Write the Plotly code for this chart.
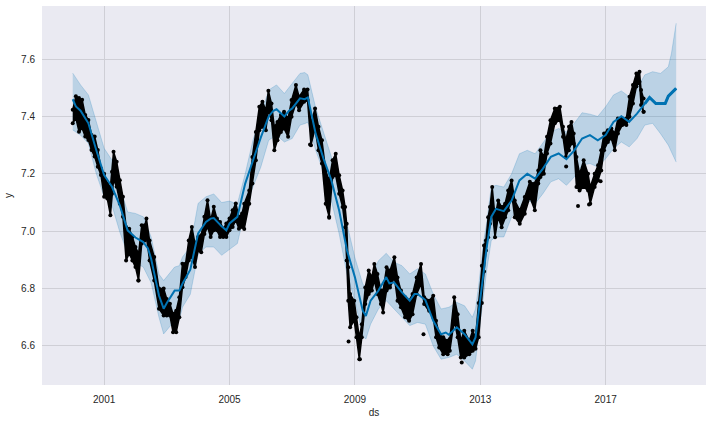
import pandas as pd
import plotly.graph_objects as go

# yearly positions are decimal years, converted to dates further down
yhat_years = [2000.0, 2000.1, 2000.25, 2000.5, 2000.75, 2001.0, 2001.25, 2001.5, 2001.75, 2002.0, 2002.25, 2002.4,
              2002.5, 2002.75, 2002.9, 2003.0, 2003.25, 2003.4, 2003.5, 2003.75, 2004.0, 2004.25, 2004.4, 2004.5,
              2004.75, 2004.9, 2005.0, 2005.25, 2005.5, 2005.75, 2006.0, 2006.25, 2006.4, 2006.5, 2006.75, 2006.9,
              2007.0, 2007.25, 2007.4, 2007.5, 2007.75, 2008.0, 2008.25, 2008.5, 2008.75, 2009.0, 2009.25, 2009.35,
              2009.5, 2009.75, 2010.0, 2010.1, 2010.25, 2010.5, 2010.75, 2010.9, 2011.0, 2011.25, 2011.5, 2011.75,
              2011.9, 2012.0, 2012.25, 2012.5, 2012.75, 2012.85, 2012.95, 2013.1, 2013.2, 2013.35, 2013.5, 2013.75,
              2014.0, 2014.25, 2014.5, 2014.75, 2015.0, 2015.25, 2015.5, 2015.75, 2016.0, 2016.25, 2016.5, 2016.75,
              2017.0, 2017.25, 2017.5, 2017.75, 2018.0, 2018.25, 2018.4, 2018.6, 2018.9, 2019.0, 2019.25]
yhat = [7.46, 7.435, 7.42, 7.376, 7.283, 7.196, 7.155, 7.09, 7.003, 6.978, 6.962, 6.94,
        6.904, 6.776, 6.73, 6.75, 6.793, 6.793, 6.817, 6.866, 6.992, 7.032, 7.044, 7.046,
        7.017, 7.003, 7.027, 7.05, 7.166, 7.25, 7.327, 7.40, 7.42, 7.425, 7.40, 7.42,
        7.428, 7.463, 7.46, 7.466, 7.34, 7.253, 7.178, 7.072, 6.933, 6.84, 6.723, 6.705,
        6.758, 6.793, 6.84, 6.818, 6.822, 6.787, 6.758, 6.781, 6.781, 6.76, 6.688, 6.641,
        6.647, 6.639, 6.665, 6.641, 6.606, 6.63, 6.72, 6.87, 6.94, 7.05, 7.078, 7.07,
        7.107, 7.177, 7.2, 7.183, 7.218, 7.259, 7.271, 7.251, 7.282, 7.323, 7.335, 7.317,
        7.335, 7.381, 7.401, 7.381, 7.41, 7.445, 7.466, 7.445, 7.445, 7.471, 7.498]
# the forecast stretch after the last observation is drawn thicker
tail_start = 2018.25

band_years = [2000.0, 2000.25, 2000.5, 2000.75, 2001.0, 2001.25, 2001.5, 2001.75, 2002.0, 2002.25, 2002.5, 2002.75,
              2002.9, 2003.25, 2003.4, 2003.5, 2003.75, 2004.0, 2004.25, 2004.5, 2004.75, 2005.0, 2005.25, 2005.5,
              2005.75, 2006.0, 2006.25, 2006.5, 2006.75, 2007.0, 2007.25, 2007.4, 2007.5, 2007.75, 2008.0, 2008.25,
              2008.5, 2008.75, 2009.0, 2009.25, 2009.35, 2009.5, 2009.75, 2010.0, 2010.25, 2010.5, 2010.75, 2011.0,
              2011.25, 2011.5, 2011.75, 2012.0, 2012.25, 2012.5, 2012.75, 2012.85, 2012.95, 2013.1, 2013.2, 2013.35,
              2013.5, 2013.75, 2014.0, 2014.25, 2014.5, 2014.75, 2015.0, 2015.25, 2015.5, 2015.75, 2016.0, 2016.25,
              2016.5, 2016.75, 2017.0, 2017.25, 2017.5, 2017.75, 2018.0, 2018.25, 2018.5, 2018.75, 2019.0, 2019.1,
              2019.25]
yhat_upper = [7.551, 7.51, 7.475, 7.382, 7.289, 7.248, 7.155, 7.067, 7.062, 7.05, 6.98, 6.85,
              6.828, 6.875, 6.88, 6.91, 6.945, 7.097, 7.12, 7.13, 7.10, 7.105, 7.095, 7.2,
              7.318, 7.405, 7.492, 7.51, 7.48, 7.515, 7.55, 7.553, 7.545, 7.43, 7.346, 7.26,
              7.13, 7.025, 6.908, 6.816, 6.804, 6.839, 6.897, 6.923, 6.892, 6.88, 6.851, 6.869,
              6.851, 6.781, 6.729, 6.735, 6.752, 6.74, 6.70, 6.729, 6.81, 6.96, 7.026, 7.154,
              7.16, 7.154, 7.2, 7.27, 7.282, 7.27, 7.306, 7.346, 7.358, 7.346, 7.376, 7.413,
              7.408, 7.40, 7.434, 7.475, 7.489, 7.469, 7.498, 7.545, 7.556, 7.55, 7.573, 7.62,
              7.725]
yhat_lower = [7.353, 7.335, 7.306, 7.201, 7.12, 7.09, 6.997, 6.922, 6.89, 6.875, 6.82, 6.70,
              6.642, 6.688, 6.69, 6.735, 6.78, 6.92, 6.945, 6.945, 6.916, 6.935, 6.957, 7.075,
              7.155, 7.224, 7.317, 7.335, 7.311, 7.323, 7.37, 7.375, 7.38, 7.282, 7.207, 7.107,
              6.991, 6.85, 6.758, 6.635, 6.624, 6.676, 6.729, 6.758, 6.729, 6.70, 6.671, 6.682,
              6.676, 6.60, 6.554, 6.56, 6.571, 6.548, 6.519, 6.548, 6.64, 6.79, 6.86, 6.968,
              6.98, 6.98, 7.05, 7.084, 7.107, 7.096, 7.131, 7.172, 7.183, 7.16, 7.189, 7.23,
              7.236, 7.224, 7.253, 7.288, 7.311, 7.294, 7.323, 7.37, 7.376, 7.34, 7.30, 7.276,
              7.241]

# spread of the observations around each date
obs_years = [2000.0, 2000.1, 2000.2, 2000.3, 2000.4, 2000.5, 2000.6, 2000.7, 2000.8, 2000.9, 2001.0, 2001.1,
             2001.2, 2001.25, 2001.3, 2001.4, 2001.5, 2001.6, 2001.7, 2001.8, 2001.9, 2002.0, 2002.1, 2002.2,
             2002.3, 2002.35, 2002.45, 2002.6, 2002.75, 2002.9, 2003.0, 2003.1, 2003.2, 2003.3, 2003.4, 2003.5,
             2003.6, 2003.7, 2003.8, 2003.9, 2004.0, 2004.1, 2004.2, 2004.3, 2004.4, 2004.5, 2004.6, 2004.7,
             2004.8, 2004.9, 2005.0, 2005.1, 2005.2, 2005.3, 2005.4, 2005.47, 2005.63, 2005.73, 2005.84, 2005.95,
             2006.05, 2006.16, 2006.24, 2006.34, 2006.43, 2006.53, 2006.64, 2006.74, 2006.87, 2006.98, 2007.12, 2007.22,
             2007.38, 2007.49, 2007.6, 2007.73, 2007.84, 2007.95, 2008.07, 2008.18, 2008.29, 2008.39, 2008.5, 2008.61,
             2008.69, 2008.74, 2008.79, 2008.85, 2008.98, 2009.05, 2009.14, 2009.22, 2009.33, 2009.44, 2009.54, 2009.62,
             2009.72, 2009.83, 2009.9, 2010.01, 2010.12, 2010.26, 2010.36, 2010.47, 2010.6, 2010.73, 2010.84, 2010.97,
             2011.11, 2011.21, 2011.37, 2011.5, 2011.59, 2011.69, 2011.82, 2011.96, 2012.03, 2012.17, 2012.28, 2012.38,
             2012.49, 2012.65, 2012.76, 2012.85, 2012.95, 2013.05, 2013.12, 2013.18, 2013.25, 2013.31, 2013.38, 2013.47,
             2013.57, 2013.68, 2013.79, 2013.89, 2014.0, 2014.1, 2014.26, 2014.42, 2014.58, 2014.74, 2014.85, 2014.92,
             2015.03, 2015.13, 2015.24, 2015.38, 2015.54, 2015.64, 2015.73, 2015.83, 2015.91, 2015.98, 2016.07, 2016.17,
             2016.3, 2016.44, 2016.51, 2016.65, 2016.76, 2016.86, 2016.95, 2017.07, 2017.18, 2017.29, 2017.39, 2017.53,
             2017.66, 2017.76, 2017.87, 2017.98, 2018.08, 2018.13, 2018.21]
obs_high = [7.423, 7.47, 7.464, 7.458, 7.405, 7.388, 7.335, 7.33, 7.283, 7.219, 7.2, 7.166,
            7.155, 7.207, 7.277, 7.242, 7.178, 7.12, 7.015, 7.009, 6.98, 6.945, 6.922, 7.021,
            7.021, 7.044, 6.968, 6.91, 6.8, 6.8, 6.764, 6.747, 6.712, 6.723, 6.77, 6.887,
            6.887, 6.968, 7.015, 6.957, 6.98, 6.986, 7.05, 7.108, 7.038, 7.085, 7.044, 7.032,
            7.009, 7.027, 7.044, 7.073, 7.097, 7.05, 7.062, 7.096, 7.142, 7.259, 7.346, 7.434,
            7.451, 7.422, 7.49, 7.445, 7.364, 7.381, 7.405, 7.416, 7.393, 7.457, 7.51, 7.469,
            7.494, 7.494, 7.376, 7.428, 7.364, 7.317, 7.212, 7.177, 7.247, 7.27, 7.195, 7.142,
            7.084, 7.026, 6.874, 6.781, 6.758, 6.7, 6.63, 6.676, 6.804, 6.863, 6.84, 6.886,
            6.851, 6.793, 6.793, 6.874, 6.863, 6.909, 6.839, 6.793, 6.77, 6.758, 6.781, 6.839,
            6.886, 6.77, 6.758, 6.775, 6.688, 6.641, 6.63, 6.618, 6.624, 6.77, 6.711, 6.618,
            6.653, 6.618, 6.653, 6.63, 6.75, 6.88, 6.95, 6.968, 7.049, 7.084, 7.154, 7.049,
            7.107, 7.084, 7.096, 7.142, 7.177, 7.107, 7.073, 7.119, 7.172, 7.166, 7.212, 7.282,
            7.259, 7.329, 7.387, 7.428, 7.434, 7.364, 7.317, 7.364, 7.381, 7.341, 7.259, 7.2,
            7.247, 7.2, 7.154, 7.2, 7.23, 7.282, 7.341, 7.352, 7.358, 7.341, 7.393, 7.393,
            7.393, 7.469, 7.51, 7.55, 7.556, 7.492, 7.463]
obs_low = [7.376, 7.394, 7.347, 7.359, 7.33, 7.318, 7.283, 7.26, 7.225, 7.196, 7.12, 7.114,
           7.056, 7.131, 7.178, 7.155, 7.096, 7.05, 6.898, 6.922, 6.898, 6.875, 6.828, 6.957,
           6.968, 6.98, 6.898, 6.828, 6.73, 6.706, 6.706, 6.706, 6.648, 6.648, 6.70, 6.805,
           6.84, 6.898, 6.91, 6.875, 6.933, 6.927, 6.99, 7.015, 6.98, 7.003, 7.003, 6.98,
           6.98, 6.98, 7.003, 7.015, 7.038, 7.009, 7.015, 7.008, 7.096, 7.166, 7.247, 7.352,
           7.364, 7.352, 7.422, 7.387, 7.282, 7.317, 7.346, 7.358, 7.329, 7.399, 7.445, 7.422,
           7.451, 7.457, 7.3, 7.358, 7.282, 7.236, 7.096, 7.05, 7.189, 7.195, 7.131, 7.084,
           7.014, 6.898, 6.758, 6.665, 6.688, 6.63, 6.554, 6.63, 6.746, 6.781, 6.793, 6.828,
           6.781, 6.746, 6.717, 6.793, 6.804, 6.839, 6.758, 6.735, 6.70, 6.688, 6.711, 6.781,
           6.816, 6.746, 6.723, 6.70, 6.63, 6.595, 6.571, 6.571, 6.583, 6.688, 6.63, 6.56,
           6.56, 6.571, 6.583, 6.59, 6.63, 6.75, 6.86, 6.933, 6.979, 7.026, 7.073, 6.979,
           7.049, 7.014, 7.049, 7.073, 7.131, 7.049, 7.026, 7.061, 7.119, 7.073, 7.166, 7.189,
           7.2, 7.271, 7.306, 7.376, 7.387, 7.329, 7.259, 7.282, 7.306, 7.306, 7.154, 7.142,
           7.154, 7.142, 7.096, 7.154, 7.177, 7.212, 7.282, 7.311, 7.323, 7.282, 7.341, 7.37,
           7.37, 7.399, 7.445, 7.504, 7.521, 7.44, 7.416]

# stray points away from the main blobs
stray_years = [2002.09, 2007.57, 2008.18, 2008.8, 2009.16, 2011.19, 2012.41, 2015.74, 2016.12, 2016.47, 2016.84, 2018.21]
stray_vals = [6.828, 7.302, 7.047, 6.616, 6.554, 6.641, 6.542, 7.226, 7.088, 7.093, 7.174, 7.416]

tick_years = [2001, 2005, 2009, 2013, 2017]
y_ticks = [6.6, 6.8, 7.0, 7.2, 7.4, 7.6]


def to_dates(years):
    return [pd.Timestamp(int(y), 1, 1) + pd.Timedelta(days=(y % 1) * 365.25) for y in years]


band_dates = to_dates(band_years)
obs_dates = to_dates(obs_years)
tail = yhat_years.index(tail_start)

fig = go.Figure()
fig.add_trace(go.Scatter(x=band_dates, y=yhat_lower, mode='lines', line=dict(color='rgba(0,114,178,0.2)', width=1),
                         showlegend=False))
fig.add_trace(go.Scatter(x=band_dates, y=yhat_upper, mode='lines', line=dict(color='rgba(0,114,178,0.2)', width=1),
                         fill='tonexty', fillcolor='rgba(0,114,178,0.2)', showlegend=False))
# observations: solid between the low and the high of each date, dots on the edges
fig.add_trace(go.Scatter(x=obs_dates, y=obs_low, mode='lines+markers', line=dict(color='black', width=1.5),
                         marker=dict(color='black', size=4), showlegend=False))
fig.add_trace(go.Scatter(x=obs_dates, y=obs_high, mode='lines+markers', line=dict(color='black', width=1.5),
                         marker=dict(color='black', size=4), fill='tonexty', fillcolor='black', showlegend=False))
fig.add_trace(go.Scatter(x=to_dates(stray_years), y=stray_vals, mode='markers',
                         marker=dict(color='black', size=4), showlegend=False))
fig.add_trace(go.Scatter(x=to_dates(yhat_years), y=yhat, mode='lines', line=dict(color='#0072B2', width=2),
                         showlegend=False))
fig.add_trace(go.Scatter(x=to_dates(yhat_years[tail:]), y=yhat[tail:], mode='lines',
                         line=dict(color='#0072B2', width=3), showlegend=False))

fig.update_layout(width=712, height=424, margin=dict(l=42, r=6, t=6, b=39),
                  paper_bgcolor='white', plot_bgcolor='#EAEAF2',
                  font=dict(family='Liberation Sans', size=10, color='#262626'))
fig.update_xaxes(title=dict(text='ds', standoff=4, font=dict(size=10)), type='date', range=['1999-01-08', '2020-03-15'],
                 tickvals=to_dates(tick_years), ticktext=[str(t) for t in tick_years],
                 showgrid=True, gridcolor='#CFCFD6', gridwidth=1, zeroline=False, showline=False,
                 ticks='outside', ticklen=5, tickcolor='rgba(0,0,0,0)')
fig.update_yaxes(title=dict(text='y', standoff=6, font=dict(size=10)), range=[6.464, 7.785], tickvals=y_ticks,
                 ticktext=['%.1f' % t for t in y_ticks],
                 showgrid=True, gridcolor='#CFCFD6', gridwidth=1, zeroline=False, showline=False,
                 ticks='outside', ticklen=4, tickcolor='rgba(0,0,0,0)')

# the page's default body margin would push the figure 8px in
fig.write_html("out.html", config=dict(displayModeBar=False), post_script="document.body.style.margin='0';")
